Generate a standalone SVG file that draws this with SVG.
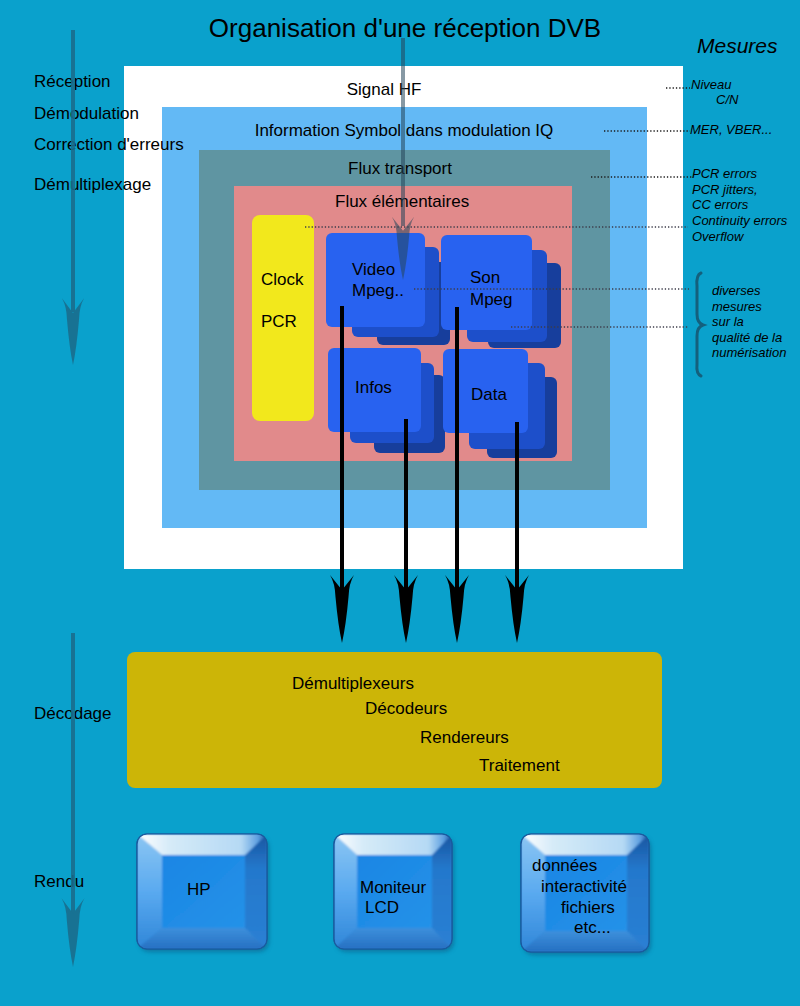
<svg xmlns="http://www.w3.org/2000/svg" width="800" height="1006" viewBox="0 0 800 1006">
<style>
text{font-family:"Liberation Sans",Arial,Helvetica,sans-serif;fill:#000}
.lbl{font-size:17px}
.title{font-size:26px}
.meas{font-size:13px;font-style:italic}
.mtitle{font-size:21px;font-style:italic}
.dot{stroke:#1a1a1a;stroke-width:1.3;stroke-dasharray:1.3 2;fill:none}
.dot2{stroke:#3c3c4a;stroke-width:1.3;stroke-dasharray:1.3 2;fill:none}
.l1{fill:#2862f0}.l2{fill:#1d4fca}.l3{fill:#173e9c}
.shaft{stroke:#000;stroke-width:4;fill:none}
.face{fill:url(#gFace)}
.outer{fill:#2a84d8;stroke:#1a5a9e;stroke-width:1.2}
.bt{fill:url(#gTop)}.bl{fill:url(#gLeft)}.br{fill:url(#gRight)}.bb{fill:url(#gBot)}
</style>
<defs>
<path id="head" d="M0,-53 L-12,-68 Q-7,-60 -6.5,-46 Q-4,-18 0,0 Q4,-18 6.5,-46 Q7,-60 12,-68 Z"/>
<linearGradient id="gFace" x1="0" y1="0" x2="1" y2="1"><stop offset="0" stop-color="#1a86e4"/><stop offset="1" stop-color="#2592e8"/></linearGradient>
<linearGradient id="gTop" x1="0" y1="0" x2="1" y2="0"><stop offset="0" stop-color="#ffffff"/><stop offset="0.25" stop-color="#d6ebf8"/><stop offset="0.8" stop-color="#b5d9f4"/><stop offset="0.93" stop-color="#5d9fe0"/><stop offset="1" stop-color="#1a4f9e"/></linearGradient>
<linearGradient id="gLeft" x1="0" y1="0" x2="0" y2="1"><stop offset="0" stop-color="#8cc6f3"/><stop offset="0.5" stop-color="#5aaaf0"/><stop offset="1" stop-color="#2f86d8"/></linearGradient>
<linearGradient id="gRight" x1="0" y1="0" x2="0" y2="1"><stop offset="0" stop-color="#1a559f"/><stop offset="0.3" stop-color="#2478cc"/><stop offset="1" stop-color="#2a80d4"/></linearGradient>
<linearGradient id="gBot" x1="0" y1="0" x2="0" y2="1"><stop offset="0" stop-color="#3d90dc"/><stop offset="1" stop-color="#2670c2"/></linearGradient>
<filter id="sh" x="-10%" y="-10%" width="130%" height="130%"><feGaussianBlur stdDeviation="2"/></filter>
<filter id="soft" x="-5%" y="-5%" width="110%" height="110%"><feGaussianBlur stdDeviation="1.2"/></filter>
<clipPath id="c1"><rect x="137" y="834" width="130" height="115" rx="10"/></clipPath>
<clipPath id="c2"><rect x="334" y="834" width="118" height="115" rx="10"/></clipPath>
<clipPath id="c3"><rect x="521" y="834" width="128" height="118" rx="10"/></clipPath>
</defs>

<rect x="0" y="0" width="800" height="1006" fill="#0aa1cc"/>

<g id="titles">
<text class="title" x="405" y="37" text-anchor="middle">Organisation d'une réception DVB</text>
<text class="mtitle" x="697" y="53">Mesures</text>
</g>

<g id="signal-hf">
<rect x="124" y="66" width="559" height="503" fill="#ffffff"/>
<text class="lbl" x="384" y="95" text-anchor="middle">Signal HF</text>
</g>
<g id="symbol-iq">
<rect x="162" y="107" width="485" height="421" fill="#63b9f5"/>
<text class="lbl" x="404" y="136" text-anchor="middle">Information Symbol dans modulation IQ</text>
</g>
<g id="flux-transport">
<rect x="199" y="150" width="411" height="340" fill="#5f95a2"/>
<text class="lbl" x="400" y="174" text-anchor="middle">Flux transport</text>
</g>
<g id="flux-elementaires">
<rect x="234" y="186" width="338" height="275" fill="#e18a8b"/>
<text class="lbl" x="335" y="207">Flux élémentaires</text>
</g>
<g id="clock-pcr">
<rect x="252" y="215" width="62" height="206" rx="8" fill="#f2e81c"/>
<text class="lbl" x="261" y="285">Clock</text>
<text class="lbl" x="261" y="327">PCR</text>
</g>
<g id="video">
<rect class="l3" x="377" y="262" width="73" height="83" rx="6"/>
<rect class="l2" x="352" y="247" width="87" height="90" rx="6"/>
<rect class="l1" x="326" y="233" width="99" height="94" rx="6"/>
<text class="lbl" x="352" y="275">Video</text>
<text class="lbl" x="352" y="296">Mpeg..</text>
</g>
<g id="son">
<rect class="l3" x="488" y="263" width="73" height="85" rx="6"/>
<rect class="l2" x="467" y="250" width="80" height="92" rx="6"/>
<rect class="l1" x="441" y="235" width="91" height="95" rx="6"/>
<text class="lbl" x="470" y="283">Son</text>
<text class="lbl" x="470" y="305">Mpeg</text>
</g>
<g id="infos">
<rect class="l3" x="374" y="375" width="71" height="78" rx="6"/>
<rect class="l2" x="350" y="363" width="84" height="80" rx="6"/>
<rect class="l1" x="328" y="348" width="93" height="84" rx="6"/>
<text class="lbl" x="355" y="393">Infos</text>
</g>
<g id="data">
<rect class="l3" x="487" y="377" width="70" height="81" rx="6"/>
<rect class="l2" x="469" y="363" width="76" height="86" rx="6"/>
<rect class="l1" x="443" y="349" width="85" height="84" rx="6"/>
<text class="lbl" x="471" y="400">Data</text>
</g>

<g id="decodage">
<rect x="127" y="652" width="535" height="136" rx="8" fill="#ccb507"/>
<text class="lbl" x="292" y="689">Démultiplexeurs</text>
<text class="lbl" x="365" y="714">Décodeurs</text>
<text class="lbl" x="420" y="743">Rendereurs</text>
<text class="lbl" x="479" y="771">Traitement</text>
</g>

<g id="hp">
<rect x="139" y="837" width="130" height="115" rx="10" fill="#0b4f7a" opacity="0.5" filter="url(#sh)"/>
<rect class="outer" x="137" y="834" width="130" height="115" rx="10"/>
<g clip-path="url(#c1)"><g filter="url(#soft)">
<polygon class="bl" points="137,834 162,855 162,928 137,949"/>
<polygon class="br" points="267,834 245,855 245,928 267,949"/>
<polygon class="bb" points="137,949 162,928 245,928 267,949"/>
<polygon class="bt" points="137,834 267,834 245,855 162,855"/>
<rect class="face" x="162" y="855" width="83" height="73"/>
</g></g>
<rect x="137" y="834" width="130" height="115" rx="10" fill="none" stroke="#1a5a9e" stroke-width="1.2"/>
<text class="lbl" x="187" y="895">HP</text>
</g>
<g id="moniteur-lcd">
<rect x="336" y="837" width="118" height="115" rx="10" fill="#0b4f7a" opacity="0.5" filter="url(#sh)"/>
<rect class="outer" x="334" y="834" width="118" height="115" rx="10"/>
<g clip-path="url(#c2)"><g filter="url(#soft)">
<polygon class="bl" points="334,834 357,855 357,928 334,949"/>
<polygon class="br" points="452,834 432,855 432,928 452,949"/>
<polygon class="bb" points="334,949 357,928 432,928 452,949"/>
<polygon class="bt" points="334,834 452,834 432,855 357,855"/>
<rect class="face" x="357" y="855" width="75" height="73"/>
</g></g>
<rect x="334" y="834" width="118" height="115" rx="10" fill="none" stroke="#1a5a9e" stroke-width="1.2"/>
<text class="lbl" x="360" y="893">Moniteur</text>
<text class="lbl" x="365" y="913">LCD</text>
</g>
<g id="donnees">
<rect x="523" y="837" width="128" height="118" rx="10" fill="#0b4f7a" opacity="0.5" filter="url(#sh)"/>
<rect class="outer" x="521" y="834" width="128" height="118" rx="10"/>
<g clip-path="url(#c3)"><g filter="url(#soft)">
<polygon class="bl" points="521,834 545,855 545,931 521,952"/>
<polygon class="br" points="649,834 627,855 627,931 649,952"/>
<polygon class="bb" points="521,952 545,931 627,931 649,952"/>
<polygon class="bt" points="521,834 649,834 627,855 545,855"/>
<rect class="face" x="545" y="855" width="82" height="76"/>
</g></g>
<rect x="521" y="834" width="128" height="118" rx="10" fill="none" stroke="#1a5a9e" stroke-width="1.2"/>
<text class="lbl" x="532" y="871">données</text>
<text class="lbl" x="541" y="892">interactivité</text>
<text class="lbl" x="561" y="913">fichiers</text>
<text class="lbl" x="574" y="933">etc...</text>
</g>

<g id="stages">
<text class="lbl" x="34" y="87">Réception</text>
<text class="lbl" x="34" y="119">Démodulation</text>
<text class="lbl" x="34" y="150">Correction d'erreurs</text>
<text class="lbl" x="34" y="190">Démultiplexage</text>
<text class="lbl" x="34" y="719">Décodage</text>
<text class="lbl" x="34" y="887">Rendu</text>
</g>

<g id="mesures">
<text class="meas" x="691" y="89">Niveau</text>
<text class="meas" x="716" y="104">C/N</text>
<text class="meas" x="690" y="134">MER, VBER...</text>
<text class="meas" x="692" y="178">PCR errors</text>
<text class="meas" x="692" y="194">PCR jitters,</text>
<text class="meas" x="692" y="209">CC errors</text>
<text class="meas" x="692" y="225">Continuity errors</text>
<text class="meas" x="692" y="241">Overflow</text>
<text class="meas" x="712" y="295">diverses</text>
<text class="meas" x="712" y="311">mesures</text>
<text class="meas" x="712" y="326">sur la</text>
<text class="meas" x="712" y="342">qualité de la</text>
<text class="meas" x="712" y="357">numérisation</text>
<path d="M701,273 Q696,275 697,286 L697,314 Q697,323 703,325 Q697,327 697,336 L697,364 Q696,374 701,376" fill="none" stroke="#14607d" stroke-width="3" stroke-linecap="round"/>
</g>

<g id="connectors">
<path class="dot" d="M666,88 H690"/>
<path class="dot" d="M604,131 H690"/>
<path class="dot" d="M591,177 H692"/>
<path class="dot2" d="M305,227 H688"/>
<path class="dot2" d="M414,289 H689"/>
<path class="dot2" d="M511,327 H689"/>

<g opacity="0.55">
<path d="M403,38 V226" stroke="#26465a" stroke-width="4" fill="none"/>
<use href="#head" transform="translate(403,280) scale(0.93,0.93)" fill="#26465a"/>
</g>
<g fill="#1a6e8d" opacity="0.9">
<path d="M73,30 V312" stroke="#1a6e8d" stroke-width="4" fill="none"/>
<use href="#head" transform="translate(73,365) scale(0.92,0.98)"/>
<path d="M73,633 V914" stroke="#1a6e8d" stroke-width="4" fill="none"/>
<use href="#head" transform="translate(73,967) scale(0.95,1.01)"/>
</g>

<path class="shaft" d="M342,306 V592"/>
<use href="#head" transform="translate(342,643)"/>
<path class="shaft" d="M406,419 V592"/>
<use href="#head" transform="translate(406,643)"/>
<path class="shaft" d="M457,307 V592"/>
<use href="#head" transform="translate(457,643)"/>
<path class="shaft" d="M517,422 V592"/>
<use href="#head" transform="translate(517,643)"/>
</g>
</svg>
